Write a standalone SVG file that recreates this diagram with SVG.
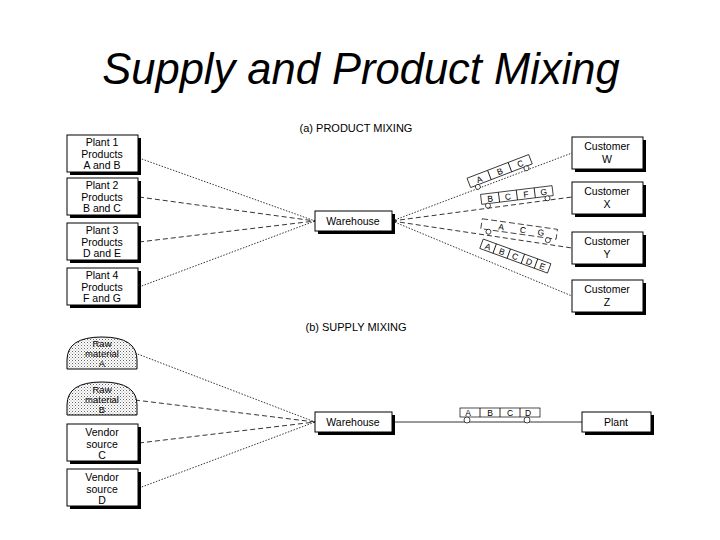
<svg xmlns="http://www.w3.org/2000/svg" width="720" height="540" viewBox="0 0 720 540">
<defs>
<pattern id="dots" width="3" height="3" patternUnits="userSpaceOnUse"><rect width="3" height="3" fill="#fff"/><rect x="0" y="0" width="1" height="1" fill="#666"/><rect x="1.5" y="1.5" width="1" height="1" fill="#999"/></pattern>
</defs>
<style>
text{font-family:"Liberation Sans",Arial,sans-serif;fill:#000}
.t{font-size:10.5px;text-anchor:middle}
.r{font-size:9.5px;text-anchor:middle}
.box{fill:#fff;stroke:#000;stroke-width:1}
.sh{fill:#000}
.dot{stroke:#000;stroke-width:0.8;stroke-dasharray:1.5 1.5;fill:none}
.dash{stroke:#000;stroke-width:0.8;stroke-dasharray:5 3;fill:none}
.sol{stroke:#000;stroke-width:0.8;fill:none}
.pb{fill:#fff;stroke:#000;stroke-width:0.7}
.pt{font-size:8.5px;text-anchor:middle}
.c{fill:#fff;stroke:#000;stroke-width:0.7}
</style>
<rect width="720" height="540" fill="#fff"/>
<text x="361" y="84" font-size="43.5" font-style="italic" text-anchor="middle">Supply and Product Mixing</text>
<text x="356" y="132" font-size="11" text-anchor="middle">(a) PRODUCT MIXING</text>
<text x="356" y="331" font-size="11" text-anchor="middle">(b) SUPPLY MIXING</text>

<g id="connectors">
<line class="dot" x1="139" y1="158" x2="315" y2="221"/>
<line class="dash" x1="139" y1="197" x2="315" y2="221"/>
<line class="dash" x1="139" y1="242" x2="315" y2="221"/>
<line class="dot" x1="139" y1="287" x2="315" y2="221"/>
<line class="dot" x1="392" y1="221" x2="572" y2="153"/>
<line class="dash" x1="392" y1="221" x2="572" y2="197"/>
<line class="dash" x1="392" y1="221" x2="572" y2="248"/>
<line class="dot" x1="392" y1="221" x2="572" y2="296"/>
<line class="dot" x1="135" y1="353" x2="315" y2="422"/>
<line class="dash" x1="135" y1="400" x2="315" y2="422"/>
<line class="dash" x1="139" y1="443" x2="315" y2="422"/>
<line class="dot" x1="139" y1="488" x2="315" y2="422"/>
<line class="sol" x1="392" y1="422" x2="582" y2="422"/>
</g>

<g id="load-w" transform="translate(500,172) rotate(-21)">
<rect class="pb" x="-33" y="-6" width="66" height="10"/>
<line class="sol" x1="-11" y1="-6" x2="-11" y2="4"/><line class="sol" x1="11" y1="-6" x2="11" y2="4"/>
<text class="pt" x="-22" y="2.5">A</text><text class="pt" x="0" y="2.5">B</text><text class="pt" x="22" y="2.5">C</text>
<circle class="c" cx="-26" cy="6" r="2.5"/><circle class="c" cx="26" cy="6" r="2.5"/>
</g>
<g id="load-x" transform="translate(517,196) rotate(-7)">
<rect class="pb" x="-36" y="-6" width="72" height="10"/>
<line class="sol" x1="-18" y1="-6" x2="-18" y2="4"/><line class="sol" x1="0" y1="-6" x2="0" y2="4"/><line class="sol" x1="18" y1="-6" x2="18" y2="4"/>
<text class="pt" x="-27" y="2.5">B</text><text class="pt" x="-9" y="2.5">C</text><text class="pt" x="9" y="2.5">F</text><text class="pt" x="27" y="2.5">G</text>
<circle class="c" cx="-30" cy="6" r="2.5"/><circle class="c" cx="30" cy="6" r="2.5"/>
</g>
<g id="load-y" transform="translate(519,230) rotate(8)">
<rect class="pb" x="-38" y="-6" width="76" height="10" stroke-dasharray="6 3"/>
<text class="pt" x="-18" y="2.5">A</text><text class="pt" x="4" y="2.5">C</text><text class="pt" x="22" y="2.5">G</text>
<circle class="c" cx="-30" cy="6" r="2.5"/><circle class="c" cx="30" cy="6" r="2.5"/>
</g>
<g id="load-z" transform="translate(515,257) rotate(20)">
<rect class="pb" x="-36" y="-6" width="72" height="10"/>
<line class="sol" x1="-22" y1="-6" x2="-22" y2="4"/><line class="sol" x1="-7" y1="-6" x2="-7" y2="4"/><line class="sol" x1="8" y1="-6" x2="8" y2="4"/><line class="sol" x1="22" y1="-6" x2="22" y2="4"/>
<text class="pt" x="-29" y="2.5">A</text><text class="pt" x="-14" y="2.5">B</text><text class="pt" x="0" y="2.5">C</text><text class="pt" x="15" y="2.5">D</text><text class="pt" x="29" y="2.5">E</text>
</g>
<g id="load-plant">
<rect class="pb" x="460" y="408" width="80" height="9"/>
<line class="sol" x1="480" y1="408" x2="480" y2="417"/><line class="sol" x1="500" y1="408" x2="500" y2="417"/><line class="sol" x1="520" y1="408" x2="520" y2="417"/>
<text class="pt" x="468" y="416">A</text><text class="pt" x="490" y="416">B</text><text class="pt" x="510" y="416">C</text><text class="pt" x="528" y="416">D</text>
<circle class="c" cx="467" cy="420" r="3"/><circle class="c" cx="527" cy="420" r="3"/>
</g>

<g id="plant1"><rect class="sh" x="70" y="138" width="71" height="37"/><rect class="box" x="67" y="135" width="71" height="37"/><text class="t" x="102" y="146">Plant 1</text><text class="t" x="102" y="158">Products</text><text class="t" x="102" y="169">A and B</text></g>
<g id="plant2"><rect class="sh" x="70" y="181" width="71" height="37"/><rect class="box" x="67" y="178" width="71" height="37"/><text class="t" x="102" y="189">Plant 2</text><text class="t" x="102" y="201">Products</text><text class="t" x="102" y="212">B and C</text></g>
<g id="plant3"><rect class="sh" x="70" y="226" width="71" height="37"/><rect class="box" x="67" y="223" width="71" height="37"/><text class="t" x="102" y="234">Plant 3</text><text class="t" x="102" y="246">Products</text><text class="t" x="102" y="257">D and E</text></g>
<g id="plant4"><rect class="sh" x="70" y="271" width="71" height="37"/><rect class="box" x="67" y="268" width="71" height="37"/><text class="t" x="102" y="279">Plant 4</text><text class="t" x="102" y="291">Products</text><text class="t" x="102" y="302">F and G</text></g>

<g id="warehouse1"><rect class="sh" x="318" y="214" width="77" height="20"/><rect class="box" x="315" y="211" width="77" height="20"/><text class="t" x="353" y="225">Warehouse</text></g>

<g id="custW"><rect class="sh" x="575" y="140" width="71" height="32"/><rect class="box" x="572" y="137" width="71" height="32"/><text class="t" x="607" y="150">Customer</text><text class="t" x="607" y="163">W</text></g>
<g id="custX"><rect class="sh" x="575" y="185" width="71" height="32"/><rect class="box" x="572" y="182" width="71" height="32"/><text class="t" x="607" y="195">Customer</text><text class="t" x="607" y="208">X</text></g>
<g id="custY"><rect class="sh" x="575" y="235" width="71" height="32"/><rect class="box" x="572" y="232" width="71" height="32"/><text class="t" x="607" y="245">Customer</text><text class="t" x="607" y="258">Y</text></g>
<g id="custZ"><rect class="sh" x="575" y="283" width="71" height="32"/><rect class="box" x="572" y="280" width="71" height="32"/><text class="t" x="607" y="293">Customer</text><text class="t" x="607" y="306">Z</text></g>

<g id="rawA"><path d="M67,369 L67,360 Q67,337 102,337 Q137,337 137,360 L137,369 Z" fill="url(#dots)" stroke="#000" stroke-width="1"/><text class="r" x="102" y="347">Raw</text><text class="r" x="102" y="357">material</text><text class="r" x="102" y="367">A</text></g>
<g id="rawB"><path d="M67,415 L67,405 Q67,382 102,382 Q137,382 137,405 L137,415 Z" fill="url(#dots)" stroke="#000" stroke-width="1"/><text class="r" x="102" y="393">Raw</text><text class="r" x="102" y="403">material</text><text class="r" x="102" y="413">B</text></g>
<g id="vendorC"><rect class="sh" x="70" y="427" width="71" height="37"/><rect class="box" x="67" y="424" width="71" height="37"/><text class="t" x="102" y="436">Vendor</text><text class="t" x="102" y="448">source</text><text class="t" x="102" y="459">C</text></g>
<g id="vendorD"><rect class="sh" x="70" y="472" width="71" height="37"/><rect class="box" x="67" y="469" width="71" height="37"/><text class="t" x="102" y="481">Vendor</text><text class="t" x="102" y="493">source</text><text class="t" x="102" y="504">D</text></g>

<g id="warehouse2"><rect class="sh" x="318" y="415" width="77" height="20"/><rect class="box" x="315" y="412" width="77" height="20"/><text class="t" x="353" y="426">Warehouse</text></g>
<g id="plant"><rect class="sh" x="585" y="415" width="69" height="20"/><rect class="box" x="582" y="412" width="69" height="20"/><text class="t" x="616" y="426">Plant</text></g>
</svg>
